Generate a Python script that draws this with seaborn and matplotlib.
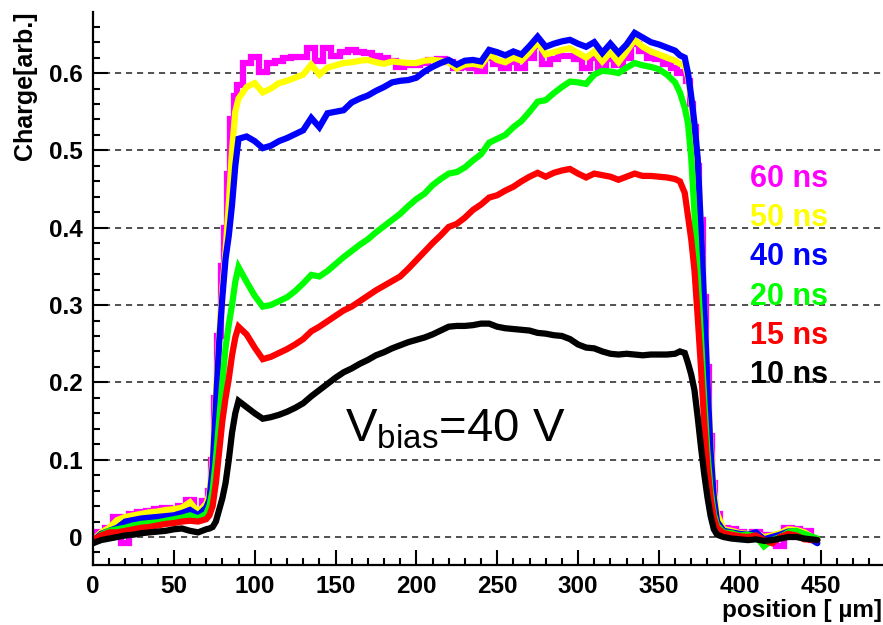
import matplotlib
matplotlib.use("Agg")
import matplotlib.pyplot as plt
import numpy as np
import pandas as pd
import seaborn as sns
from matplotlib.ticker import MultipleLocator, FuncFormatter

# ---------------- data ----------------
position = [0, 5, 10, 15, 20, 25, 30, 35, 40, 45, 50, 55, 60, 65, 70,
            72, 74, 76, 78, 80, 82, 84, 86, 88,
            90, 95, 100, 105, 110, 115, 120, 125, 130, 135,
            140, 145, 150, 155, 160, 165, 170, 175, 180, 185,
            190, 195, 200, 205, 210, 215, 220, 225, 230, 235,
            240, 245, 250, 255, 260, 265, 270, 275, 280, 285,
            290, 295, 300, 305, 310, 315, 320, 325, 330, 335,
            340, 345, 350, 355, 360,
            363, 366, 368, 370, 372, 374, 376, 378, 380, 382, 384, 386,
            390, 395, 400, 405, 410, 415, 420, 425, 430, 435, 440, 448]

q_60ns = [-0.004, 0.006, 0.012, 0.026, -0.008, 0.030, 0.032, 0.034, 0.036, 0.037, 0.036, 0.040, 0.048, 0.035, 0.046,
          0.060, 0.100, 0.180, 0.260, 0.350, 0.400, 0.470, 0.540, 0.570,
          0.585, 0.613, 0.621, 0.602, 0.613, 0.616, 0.620, 0.621, 0.621, 0.632,
          0.615, 0.632, 0.622, 0.627, 0.630, 0.627, 0.626, 0.622, 0.620, 0.615,
          0.608, 0.611, 0.611, 0.613, 0.617, 0.618, 0.614, 0.606, 0.608, 0.607,
          0.603, 0.620, 0.612, 0.607, 0.614, 0.607, 0.620, 0.635, 0.612, 0.618,
          0.622, 0.622, 0.618, 0.607, 0.620, 0.606, 0.618, 0.610, 0.620, 0.638,
          0.628, 0.620, 0.618, 0.612, 0.606,
          0.600, 0.602, 0.590, 0.560, 0.530, 0.480, 0.410, 0.310, 0.220, 0.130, 0.070, 0.030,
          0.012, 0.010, 0.006, 0.004, 0.006, 0.002, 0.003, -0.012, 0.012, 0.011, 0.008, -0.004]

q_50ns = [-0.004, 0.006, 0.012, 0.022, 0.026, 0.028, 0.030, 0.032, 0.033, 0.035, 0.036, 0.038, 0.045, 0.032, 0.043,
          0.055, 0.100, 0.180, 0.260, 0.320, 0.370, 0.430, 0.500, 0.550,
          0.567, 0.582, 0.587, 0.575, 0.580, 0.587, 0.590, 0.594, 0.598, 0.611,
          0.598, 0.607, 0.610, 0.613, 0.614, 0.616, 0.617, 0.614, 0.612, 0.615,
          0.614, 0.613, 0.613, 0.616, 0.617, 0.616, 0.614, 0.606, 0.611, 0.612,
          0.610, 0.624, 0.617, 0.614, 0.620, 0.616, 0.627, 0.640, 0.624, 0.627,
          0.630, 0.632, 0.626, 0.620, 0.628, 0.615, 0.627, 0.614, 0.628, 0.643,
          0.634, 0.628, 0.624, 0.620, 0.616,
          0.612, 0.610, 0.595, 0.565, 0.530, 0.480, 0.400, 0.300, 0.200, 0.120, 0.060, 0.030,
          0.010, 0.008, 0.005, 0.004, 0.005, 0.000, 0.002, 0.005, 0.010, 0.009, 0.006, -0.004]

q_40ns = [-0.005, 0.004, 0.008, 0.012, 0.020, 0.022, 0.024, 0.025, 0.026, 0.027, 0.028, 0.031, 0.035, 0.028, 0.038,
          0.048, 0.090, 0.170, 0.250, 0.310, 0.360, 0.390, 0.430, 0.480,
          0.515, 0.518, 0.512, 0.503, 0.506, 0.512, 0.516, 0.521, 0.526, 0.542,
          0.530, 0.548, 0.550, 0.552, 0.562, 0.567, 0.571, 0.577, 0.582, 0.588,
          0.590, 0.591, 0.594, 0.602, 0.608, 0.613, 0.617, 0.611, 0.616, 0.617,
          0.615, 0.630, 0.627, 0.623, 0.628, 0.624, 0.635, 0.647, 0.634, 0.638,
          0.641, 0.643, 0.638, 0.634, 0.640, 0.626, 0.638, 0.626, 0.637, 0.652,
          0.646, 0.640, 0.637, 0.633, 0.629,
          0.623, 0.620, 0.600, 0.570, 0.535, 0.490, 0.400, 0.300, 0.200, 0.110, 0.050, 0.020,
          0.008, 0.006, 0.004, 0.003, 0.006, -0.003, 0.000, 0.003, 0.007, 0.007, 0.002, -0.008]

q_20ns = [-0.008, 0.003, 0.008, 0.010, 0.012, 0.015, 0.017, 0.018, 0.019, 0.021, 0.023, 0.025, 0.028, 0.024, 0.030,
          0.040, 0.060, 0.100, 0.150, 0.200, 0.245, 0.275, 0.300, 0.330,
          0.349, 0.330, 0.312, 0.298, 0.300, 0.305, 0.310, 0.318, 0.328, 0.339,
          0.337, 0.344, 0.353, 0.362, 0.370, 0.378, 0.385, 0.394, 0.402, 0.410,
          0.418, 0.428, 0.437, 0.444, 0.455, 0.463, 0.470, 0.472, 0.478, 0.487,
          0.495, 0.510, 0.515, 0.520, 0.530, 0.538, 0.550, 0.563, 0.565, 0.574,
          0.582, 0.589, 0.588, 0.586, 0.598, 0.603, 0.602, 0.600, 0.607, 0.613,
          0.610, 0.608, 0.605, 0.598, 0.588,
          0.575, 0.555, 0.535, 0.490, 0.420, 0.340, 0.260, 0.180, 0.110, 0.060, 0.030, 0.015,
          0.006, 0.005, 0.002, 0.003, 0.001, -0.012, -0.004, 0.000, 0.006, 0.008, 0.004, -0.002]

q_15ns = [-0.004, 0.002, 0.006, 0.006, 0.008, 0.010, 0.012, 0.013, 0.015, 0.017, 0.018, 0.020, 0.021, 0.020, 0.023,
          0.028, 0.040, 0.070, 0.110, 0.150, 0.180, 0.205, 0.235, 0.258,
          0.272, 0.262, 0.245, 0.230, 0.233, 0.238, 0.243, 0.249, 0.256, 0.266,
          0.272, 0.279, 0.286, 0.293, 0.298, 0.305, 0.312, 0.319, 0.325, 0.331,
          0.337, 0.347, 0.358, 0.369, 0.380, 0.390, 0.401, 0.405, 0.413, 0.423,
          0.430, 0.439, 0.442, 0.448, 0.453, 0.460, 0.466, 0.471, 0.466, 0.471,
          0.474, 0.476, 0.470, 0.465, 0.470, 0.468, 0.466, 0.462, 0.466, 0.470,
          0.467, 0.467, 0.466, 0.465, 0.463,
          0.460, 0.445, 0.415, 0.385, 0.345, 0.285, 0.220, 0.150, 0.090, 0.050, 0.025, 0.012,
          0.005, 0.003, 0.001, 0.000, 0.002, -0.004, -0.008, 0.000, 0.004, 0.002, -0.003, -0.004]

q_10ns = [-0.008, -0.004, -0.002, 0.000, 0.002, 0.003, 0.005, 0.006, 0.007, 0.008, 0.010, 0.011, 0.008, 0.006, 0.010,
          0.011, 0.013, 0.020, 0.035, 0.050, 0.070, 0.100, 0.135, 0.160,
          0.176, 0.168, 0.160, 0.153, 0.155, 0.158, 0.162, 0.167, 0.173, 0.182,
          0.190, 0.198, 0.206, 0.213, 0.218, 0.224, 0.229, 0.235, 0.239, 0.244,
          0.248, 0.252, 0.255, 0.258, 0.262, 0.267, 0.272, 0.273, 0.273, 0.274,
          0.276, 0.276, 0.272, 0.270, 0.269, 0.268, 0.267, 0.264, 0.263, 0.261,
          0.260, 0.256, 0.249, 0.245, 0.244, 0.240, 0.237, 0.236, 0.237, 0.236,
          0.235, 0.236, 0.236, 0.236, 0.237,
          0.240, 0.238, 0.225, 0.210, 0.190, 0.155, 0.117, 0.082, 0.052, 0.027, 0.010, 0.003,
          0.000, -0.002, -0.003, -0.004, -0.003, -0.005, -0.004, -0.002, 0.000, 0.000, -0.002, -0.004]

series_labels = ["60 ns", "50 ns", "40 ns", "20 ns", "15 ns", "10 ns"]
series_values = [q_60ns, q_50ns, q_40ns, q_20ns, q_15ns, q_10ns]
series_colors = ["#ff00ff", "#ffff00", "#0000ff", "#00ff00", "#ff0000", "#000000"]

x_ticks = [0, 50, 100, 150, 200, 250, 300, 350, 400, 450]
y_ticks = [0, 0.1, 0.2, 0.3, 0.4, 0.5, 0.6]

# ---------------- style ----------------
sns.set_style("white")
plt.rcParams["font.family"] = ["Liberation Sans", "DejaVu Sans"]
plt.rcParams["mathtext.fontset"] = "custom"
plt.rcParams["mathtext.rm"] = "Liberation Sans"
plt.rcParams["text.color"] = "black"
plt.rcParams["axes.labelcolor"] = "black"
plt.rcParams["xtick.color"] = "black"
plt.rcParams["ytick.color"] = "black"

frames = []
for lab, vals in zip(series_labels, series_values):
    frames.append(pd.DataFrame({"position": position, "charge": vals, "delay": lab}))
df = pd.concat(frames, ignore_index=True)

fig = plt.figure(figsize=(8.83, 6.25), dpi=100)
ax = fig.add_axes([93 / 883, 60 / 625, 789 / 883, 553 / 625])

for lab, col in zip(series_labels, series_colors):
    sub = df[df["delay"] == lab]
    kw = dict(drawstyle="steps-mid") if lab == "60 ns" else {}
    sns.lineplot(data=sub, x="position", y="charge", color=col, lw=4.5,
                 sort=False, estimator=None, ax=ax, legend=False,
                 solid_joinstyle="miter", **kw)

ax.set_xlim(0, 488)
ax.set_ylim(-0.0362, 0.679)

ax.set_xticks(x_ticks)
ax.set_yticks(y_ticks)
ax.xaxis.set_minor_locator(MultipleLocator(10))
ax.yaxis.set_minor_locator(MultipleLocator(0.02))
ax.yaxis.set_major_formatter(FuncFormatter(lambda v, _: f"{v:g}"))
ax.tick_params(which="major", direction="in", length=10.8, width=1.5,
               labelsize=17.5, pad=7.5, colors="black")
ax.tick_params(which="minor", direction="in", length=5.2, width=1.5, colors="black")
ax.tick_params(axis="both", which="both", bottom=True, left=True, top=False, right=False)
for lbl in ax.get_xticklabels() + ax.get_yticklabels():
    lbl.set_fontweight("bold")
    lbl.set_color("black")

for s in ["top", "right"]:
    ax.spines[s].set_visible(False)
for s in ["left", "bottom"]:
    ax.spines[s].set_linewidth(1.6)
    ax.spines[s].set_color("black")

ax.set_axisbelow(True)
ax.yaxis.grid(True, linestyle=(0, (4, 3.2)), color="#222222", lw=1.1)
ax.xaxis.grid(False)

ax.set_xlabel("position [ µm]", fontsize=17.5, fontweight="bold", loc="right", color="black")
ax.xaxis.set_label_coords(1.0, -0.062)
ax.set_ylabel("Charge[arb.]", fontsize=18, fontweight="bold", loc="top", color="black")
ax.yaxis.set_label_coords(-0.071, 1.0)

# legend as coloured text
for i, (lab, col) in enumerate(zip(series_labels, series_colors)):
    ax.text(406.5, 0.4525 - i * 0.0506, lab, color=col, fontsize=22,
            fontweight="bold", ha="left", va="baseline")

ax.text(156, 0.124, r"V$_{\mathregular{bias}}$=40 V", fontsize=34,
        ha="left", va="baseline", color="black")

fig.savefig("out.png", dpi=100)
